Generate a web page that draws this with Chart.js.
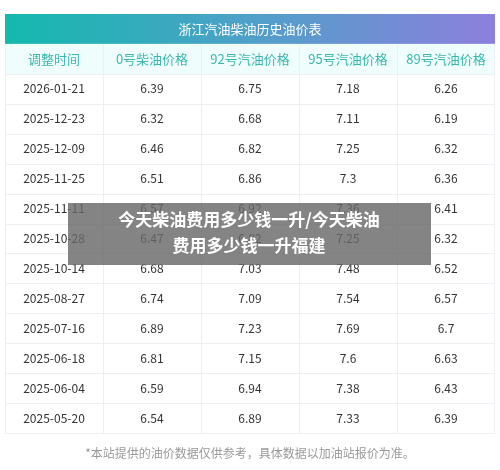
<!DOCTYPE html>
<html>
<head>
<meta charset="utf-8">
<script src="https://cdn.jsdelivr.net/npm/chart.js@4/dist/chart.umd.min.js"></script>
<style>
  html, body { margin: 0; padding: 0; background: #fff; }
  #wrap { position: relative; width: 500px; height: 470px; }
</style>
</head>
<body>
<div id="wrap"><canvas id="c"></canvas></div>
<script>
// ─── data ────────────────────────────────────────────────────────────────
const tableTitle = '浙江汽油柴油历史油价表';
const columns = ['调整时间', '0号柴油价格', '92号汽油价格', '95号汽油价格', '89号汽油价格'];
const dates = ['2026-01-21', '2025-12-23', '2025-12-09', '2025-11-25', '2025-11-11', '2025-10-28',
    '2025-10-14', '2025-08-27', '2025-07-16', '2025-06-18', '2025-06-04', '2025-05-20'];
const diesel0 = [6.39, 6.32, 6.46, 6.51, 6.57, 6.47, 6.68, 6.74, 6.89, 6.81, 6.59, 6.54];
const gas92 = [6.75, 6.68, 6.82, 6.86, 6.92, 6.82, 7.03, 7.09, 7.23, 7.15, 6.94, 6.89];
const gas95 = [7.18, 7.11, 7.25, 7.3, 7.36, 7.25, 7.48, 7.54, 7.69, 7.6, 7.38, 7.33];
const gas89 = [6.26, 6.19, 6.32, 6.36, 6.41, 6.32, 6.52, 6.57, 6.7, 6.63, 6.43, 6.39];
const footNote = '*本站提供的油价数据仅供参考，具体数据以加油站报价为准。';
const overlayLines = ['今天柴油费用多少钱一升/今天柴油', '费用多少钱一升福建'];

const series = [dates, diesel0, gas92, gas95, gas89];
const FONT = '"Noto Sans CJK SC", "Noto Sans", sans-serif';

// one invisible point per cell, text is painted by the plugin below
const cells = [];
series.forEach((col, c) => col.forEach((v, r) => cells.push({x: c, y: r, v: v})));

// ─── table painter ───────────────────────────────────────────────────────
const tablePlugin = {
    id: 'table',
    beforeDatasetsDraw(chart) {
        const {ctx, scales: {x, y}} = chart;
        const left = x.getPixelForValue(-0.5), right = x.getPixelForValue(4.5);
        const rowTop = r => y.getPixelForValue(r - 0.5);
        ctx.save();

        // title band
        const g = ctx.createLinearGradient(left, 0, right, 0);
        g.addColorStop(0, '#14b9ad');
        g.addColorStop(0.5, '#4fa0c9');
        g.addColorStop(1, '#8d7fdc');
        ctx.fillStyle = g;
        ctx.fillRect(left, rowTop(-2), right - left, rowTop(-1) - rowTop(-2));
        ctx.fillStyle = '#fff';
        ctx.font = `13px ${FONT}`;
        ctx.textAlign = 'center';
        ctx.textBaseline = 'middle';
        ctx.fillText(tableTitle, (left + right) / 2, y.getPixelForValue(-2));

        // header row
        ctx.fillStyle = '#effdfd';
        ctx.fillRect(left, rowTop(-1), right - left, rowTop(0) - rowTop(-1));
        ctx.fillStyle = '#3db7ae';
        columns.forEach((t, c) => ctx.fillText(t, x.getPixelForValue(c), y.getPixelForValue(-1)));

        // grid
        ctx.strokeStyle = '#eceff3';
        ctx.lineWidth = 1;
        for (let r = 0; r <= dates.length; r++) {
            ctx.beginPath();
            ctx.moveTo(left, Math.round(rowTop(r)) + 0.5);
            ctx.lineTo(right, Math.round(rowTop(r)) + 0.5);
            ctx.stroke();
        }
        for (let c = 1; c < columns.length; c++) {
            const px = Math.round(x.getPixelForValue(c - 0.5)) + 0.5;
            ctx.beginPath();
            ctx.moveTo(px, rowTop(-1));
            ctx.lineTo(px, rowTop(dates.length));
            ctx.stroke();
        }
        ctx.beginPath();
        ctx.moveTo(left + 0.5, rowTop(-1));
        ctx.lineTo(left + 0.5, rowTop(dates.length));
        ctx.moveTo(right - 0.5, rowTop(-1));
        ctx.lineTo(right - 0.5, rowTop(dates.length));
        ctx.stroke();

        // cell text
        ctx.fillStyle = '#333';
        ctx.font = `12px ${FONT}`;
        chart.data.datasets[0].data.forEach(p => {
            ctx.fillText(String(p.v), x.getPixelForValue(p.x), y.getPixelForValue(p.y));
        });
        ctx.restore();
    },
    afterDraw(chart) {
        const {ctx} = chart;
        ctx.save();
        ctx.fillStyle = '#999';
        ctx.font = `12px ${FONT}`;
        ctx.textAlign = 'center';
        ctx.textBaseline = 'middle';
        ctx.fillText(footNote, 250, 453);

        // watermark-ish caption box
        ctx.fillStyle = 'rgba(105,105,105,0.82)';
        ctx.fillRect(68, 203, 363, 62);
        ctx.fillStyle = '#fff';
        ctx.font = `bold 17px ${FONT}`;
        ctx.fillText(overlayLines[0], 249, 220);
        ctx.fillText(overlayLines[1], 249, 246);
        ctx.restore();
    }
};

new Chart(document.getElementById('c'), {
    type: 'scatter',
    data: {datasets: [{data: cells, pointRadius: 0, pointHoverRadius: 0}]},
    options: {
        responsive: true,
        maintainAspectRatio: false,
        animation: false,
        events: [],
        layout: {padding: {left: 5, right: 5, top: 14, bottom: 37}},
        plugins: {legend: {display: false}, tooltip: {enabled: false}},
        scales: {
            x: {type: 'linear', min: -0.5, max: 4.5, display: false},
            y: {type: 'linear', min: -2.5, max: dates.length - 0.5, reverse: true, display: false},
        },
    },
    plugins: [tablePlugin],
});
</script>
</body>
</html>
